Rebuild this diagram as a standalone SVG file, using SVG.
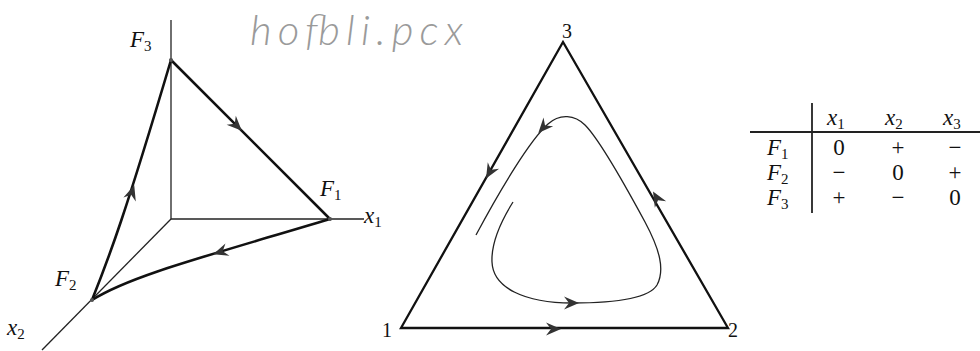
<svg xmlns="http://www.w3.org/2000/svg" xmlns:xlink="http://www.w3.org/1999/xlink" width="980" height="351" viewBox="0 0 980 351">
<style>
.thin{fill:none;stroke:#222;stroke-width:1.3}
.thick{fill:none;stroke:#111;stroke-width:2.6;stroke-linecap:round}
.edge{fill:none;stroke:#111;stroke-width:2.3;stroke-linejoin:miter}
.orbit{fill:none;stroke:#222;stroke-width:1.3}
.ah{fill:#333;stroke:none}
.m{font-family:"Liberation Serif",serif;font-style:italic;font-size:23px;fill:#111}
.sub{font-style:normal;font-size:15px}
.n{font-family:"Liberation Serif",serif;font-size:20px;fill:#111}
.tv{font-family:"Liberation Serif",serif;font-size:23px;fill:#111;text-anchor:middle}
.hand{font-family:"Lato","DejaVu Sans",sans-serif;font-style:italic;font-weight:300;font-size:42px;fill:#9a9a9a}
.pt{fill:#555}
</style>
<defs>
<path id="ah" d="M4,0 L-11,-6.5 L-6,0 L-11,6.5 Z"/>
</defs>
<rect width="980" height="351" fill="#ffffff"/>

<g id="handwriting">
<text class="hand" x="250" y="45" textLength="213" lengthAdjust="spacing">hofbli.pcx</text>
</g>

<g id="axes">
<line class="thin" x1="171" y1="20" x2="171" y2="219"/>
<line class="thin" x1="171" y1="219" x2="364" y2="219"/>
<line class="thin" x1="171" y1="219" x2="42" y2="350"/>
</g>

<g id="connectors">
<path id="c31" class="thick" d="M171,60 L330,219"/>
<path id="c12" class="thick" d="M330,219 C200,258 130,276 92,300"/>
<path id="c23" class="thick" d="M92,300 C110,255 125,215 171,60"/>
<use href="#ah" class="ah" transform="translate(239,128) rotate(45)"/>
<use href="#ah" class="ah" transform="translate(217,253) rotate(162)"/>
<use href="#ah" class="ah" transform="translate(133,189) rotate(-72)"/>

<path id="tri" class="edge" d="M401,328 L728,328 L563,42 Z"/>
<use href="#ah" class="ah" transform="translate(557,329) rotate(0)"/>
<use href="#ah" class="ah" transform="translate(488,175) rotate(119.5)"/>
<use href="#ah" class="ah" transform="translate(655,195) rotate(-120)"/>

<path id="orbit" class="orbit" d="M513,202 C503,218 491,240 492,262 C493,288 525,303 572,303 C610,303 648,300 657,285 C665,270 660,250 645,222 C625,185 600,140 585,125 C575,115 560,113 548,124 C530,140 500,190 476,235"/>
<use href="#ah" class="ah" transform="translate(575,303) rotate(0)"/>
<use href="#ah" class="ah" transform="translate(541,130) rotate(132)"/>
</g>

<g id="F3">
<circle class="pt" cx="171" cy="60" r="2"/>
<text class="m" x="130" y="47">F<tspan class="sub" dy="4">3</tspan></text>
</g>
<g id="F1">
<circle class="pt" cx="330" cy="219" r="2"/>
<text class="m" x="320" y="196">F<tspan class="sub" dy="4">1</tspan></text>
</g>
<g id="F2">
<circle class="pt" cx="92" cy="300" r="2"/>
<text class="m" x="55" y="286">F<tspan class="sub" dy="4">2</tspan></text>
</g>
<g id="x1label">
<text class="m" x="364" y="223">x<tspan class="sub" dy="4">1</tspan></text>
</g>
<g id="x2label">
<text class="m" x="7" y="335">x<tspan class="sub" dy="4">2</tspan></text>
</g>

<g id="v3"><text class="n" x="567" y="38" text-anchor="middle">3</text></g>
<g id="v1"><text class="n" x="387" y="337" text-anchor="middle">1</text></g>
<g id="v2"><text class="n" x="733" y="337" text-anchor="middle">2</text></g>

<g id="table">
<line x1="812" y1="103" x2="812" y2="213" stroke="#222" stroke-width="1.8"/>
<line x1="750" y1="132" x2="980" y2="132" stroke="#222" stroke-width="2"/>
<text class="m" x="827" y="125">x<tspan class="sub" dy="4">1</tspan></text>
<text class="m" x="885" y="125">x<tspan class="sub" dy="4">2</tspan></text>
<text class="m" x="943" y="125">x<tspan class="sub" dy="4">3</tspan></text>
<text class="m" x="767" y="155">F<tspan class="sub" dy="4">1</tspan></text>
<text class="m" x="767" y="180">F<tspan class="sub" dy="4">2</tspan></text>
<text class="m" x="767" y="205">F<tspan class="sub" dy="4">3</tspan></text>
<text class="tv" x="839" y="155">0</text>
<text class="tv" x="898" y="155">+</text>
<text class="tv" x="955" y="155">−</text>
<text class="tv" x="839" y="180">−</text>
<text class="tv" x="898" y="180">0</text>
<text class="tv" x="955" y="180">+</text>
<text class="tv" x="839" y="205">+</text>
<text class="tv" x="898" y="205">−</text>
<text class="tv" x="955" y="205">0</text>
</g>
</svg>
